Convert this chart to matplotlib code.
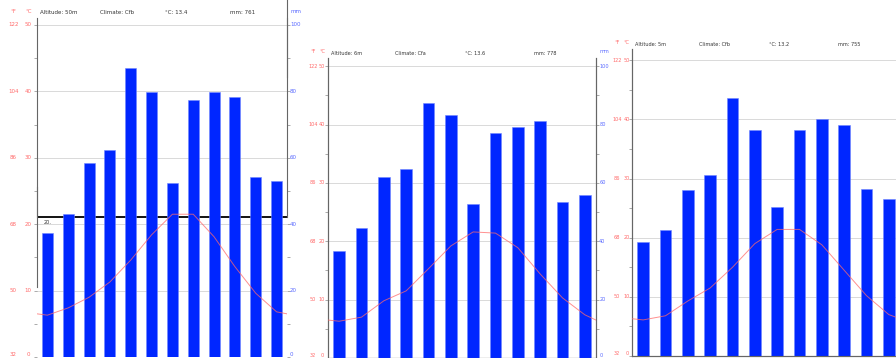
import numpy as np
import matplotlib
matplotlib.use("Agg")
import matplotlib.pyplot as plt

W, H = 896, 358

months = np.arange(12)
degC_ticks = [0, 10, 20, 30, 40, 50]
degF_labels = ["32", "50", "68", "86", "104", "122"]
mm_ticks = [0, 20, 40, 60, 80, 100]
mm_labels = ["0", "20", "40", "60", "80", "100"]

# panel 1
precip1 = [37.3, 43.2, 58.4, 62.3, 87.0, 79.8, 52.4, 77.4, 79.8, 78.3, 54.2, 53.0]
temp1 = [6.3, 7.4, 9.0, 11.3, 14.6, 18.4, 21.5, 21.5, 18.1, 13.6, 9.6, 6.8]
edge1 = 6.5
head1 = ["Altitude: 50m", "Climate: Cfb", "°C: 13.4", "mm: 761"]

# panel 2
precip2 = [36.8, 44.7, 61.9, 64.9, 87.3, 83.2, 52.6, 77.0, 79.0, 81.1, 53.6, 55.7]
temp2 = [6.3, 7.0, 9.8, 11.5, 15.3, 19.2, 21.6, 21.4, 18.9, 14.4, 10.3, 7.4]
edge2 = 6.5
head2 = ["Altitude: 6m", "Climate: Cfa", "°C: 13.6", "mm: 778"]

# panel 3
precip3 = [38.5, 42.6, 56.1, 61.1, 87.2, 76.4, 50.3, 76.4, 80.1, 78.0, 56.4, 53.0]
temp3 = [6.1, 6.8, 9.3, 11.5, 15.0, 19.0, 21.4, 21.4, 18.8, 14.5, 10.2, 7.0]
edge3 = 6.3
head3 = ["Altitude: 5m", "Climate: Cfb", "°C: 13.2", "mm: 755"]

RED = "#ff6a6a"
BLUE = "#5a6aff"
BAR = "#0026ff"
GRID = "#d9d9d9"


def px_rect(x0, x1, ytop, ybot):
    return [x0 / W, 1 - ybot / H, (x1 - x0) / W, (ybot - ytop) / H]


def climograph(fig, rect, ymax, precip, temp, edge, head, fx, cx, fs=3.6, mm_axis=True):
    ax = fig.add_axes(rect)
    ax.set_xlim(-0.5, 11.5)
    ax.set_ylim(0, ymax)
    for t in degC_ticks:
        ax.axhline(t, color=GRID, lw=0.7, zorder=0)
    ax2 = ax.twinx()
    ax2.set_ylim(0, 2 * ymax)
    ax2.bar(months, precip, width=0.53, color=BAR, edgecolor="#6f86ff",
            linewidth=0.4, zorder=2)
    ax3 = ax.twinx()
    ax3.set_ylim(0, ymax)
    ax3.axis("off")
    ax3.plot([-0.5] + list(months) + [11.5], [edge] + temp + [edge],
             color=RED, lw=0.7, alpha=0.75)
    for a in (ax, ax2):
        a.set_xticks([])
        a.spines["top"].set_visible(False)
        for s in a.spines.values():
            s.set_color("#666666")
            s.set_linewidth(0.8)
    ax.set_yticks(degC_ticks)
    ax.set_yticklabels([])
    ax.set_yticks(np.arange(5, 50, 10), minor=True)
    ax.tick_params(axis="y", which="both", length=2, width=0.5, colors="#888888")
    ax2.set_yticks(mm_ticks)
    ax2.set_yticklabels([])
    ax2.set_yticks(np.arange(10, 100, 20), minor=True)
    ax2.tick_params(axis="y", which="both", length=2, width=0.5, colors="#888888")
    tr = ax.get_yaxis_transform()
    tr2 = ax2.get_yaxis_transform()
    for t, f in zip(degC_ticks, degF_labels):
        va = "bottom" if t == 0 else "center"
        ax.text(fx, t, f, transform=tr, ha="center", va=va, fontsize=fs, color=RED)
        ax.text(cx, t, str(t), transform=tr, ha="center", va=va, fontsize=fs, color=RED)
    ytop = ymax + 0.6
    if mm_axis:
        for m, lab in zip(mm_ticks, mm_labels):
            va = "bottom" if m == 0 else "center"
            ax2.text(1.012, m, lab, transform=tr2, ha="left", va=va, fontsize=fs, color=BLUE)
        ax.text(1.012, ytop, "mm", transform=tr, ha="left", va="bottom", fontsize=fs, color=BLUE)
    ax.text(fx, ytop, "°F", transform=tr, ha="center", va="bottom", fontsize=fs, color=RED)
    ax.text(cx, ytop, "°C", transform=tr, ha="center", va="bottom", fontsize=fs, color=RED)
    for xf, s in zip([0.01, 0.25, 0.51, 0.77], head):
        ax.text(xf, ytop - 0.2, s, transform=tr, ha="left", va="bottom",
                fontsize=fs, color="#333333")
    return ax, ax2


fig = plt.figure(figsize=(W / 100, H / 100), dpi=100)

# panel 1 (broken frame: spines stop at a black line)
ax, ax2 = climograph(fig, px_rect(37, 287, 18, 357), 51.05, precip1, temp1, edge1,
                     head1, -0.095, -0.035, fs=4.0)
cut = 21.08
for a in (ax, ax2):
    a.spines["bottom"].set_visible(False)
    a.spines["left"].set_bounds(cut, 51.05)
    a.spines["right"].set_bounds(2 * cut, 2 * 51.05)
ax.axhline(cut, color="black", lw=1.3, zorder=5)
ax.text(0.0, cut - 0.5, "20.", ha="center", va="top", fontsize=3.6, color="#333333")

# panel 2
climograph(fig, px_rect(328, 596, 58, 358), 51.4, precip2, temp2, edge2,
           head2, -0.056, -0.022)

# panel 3 (cut off on the right, its mm axis lies outside the picture)
climograph(fig, px_rect(632, 900, 49, 356), 51.9, precip3, temp3, edge3,
           head3, -0.056, -0.019, mm_axis=False)

fig.savefig("out.png", dpi=100)
